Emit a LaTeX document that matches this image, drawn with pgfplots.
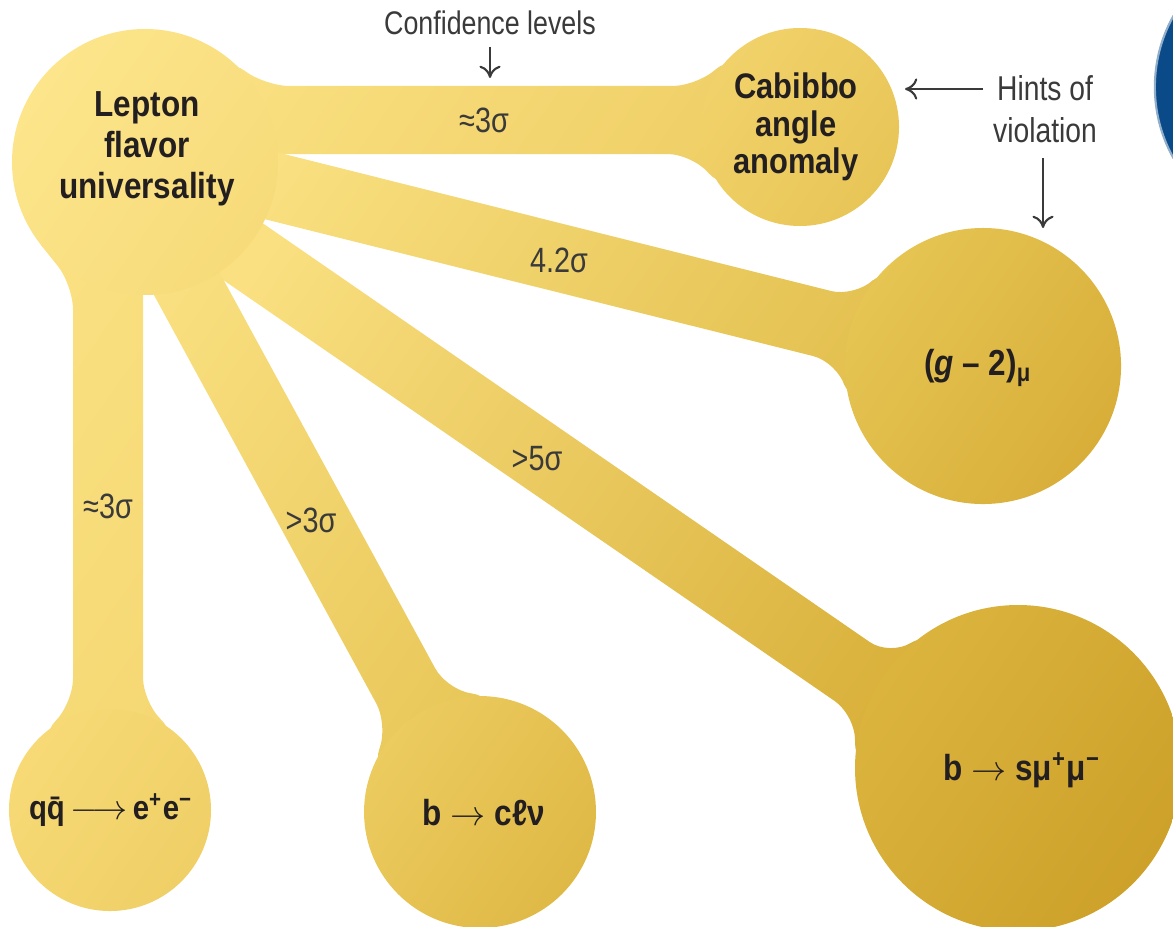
\documentclass[border=0pt]{standalone}
\usepackage{pgfplots}
\pgfplotsset{compat=1.18}
\usepackage{fontspec}
\usetikzlibrary{arrows.meta}
\setmainfont{Liberation Sans}
\newfontfamily\lbl{Liberation Sans}[FakeStretch=0.87]
\newfontfamily\cond{Liberation Sans}[FakeStretch=0.82]

\definecolor{ink}{HTML}{231F20}
\definecolor{note}{HTML}{3A3A3A}
\definecolor{navy}{HTML}{0B4A89}
% circle colours (light end, dark end)
\definecolor{lfuA}{HTML}{FCE58B}\definecolor{lfuB}{HTML}{F7DB7A}
\definecolor{cabA}{HTML}{F1D26A}\definecolor{cabB}{HTML}{E8C557}
\definecolor{gmA}{HTML}{E6C553}\definecolor{gmB}{HTML}{D8AE39}
\definecolor{bsA}{HTML}{DBB43E}\definecolor{bsB}{HTML}{CDA12A}
\definecolor{bcA}{HTML}{ECCB5F}\definecolor{bcB}{HTML}{DFB946}
\definecolor{qqA}{HTML}{F7DA76}\definecolor{qqB}{HTML}{EFCF66}
% branch colours: start at the hub, end matched to the node it joins
\definecolor{brA}{HTML}{FAE081}
\definecolor{brH}{HTML}{EFCF66}
\definecolor{brG}{HTML}{E3C04F}
\definecolor{brF}{HTML}{D9B13B}
\definecolor{brT}{HTML}{E9C85A}
\definecolor{brV}{HTML}{F5D873}

\pgfdeclareplotmark{lfu}{\shade[draw=none,top color=lfuA,bottom color=lfuB,shading angle=55] (0,0) circle (\pgfplotmarksize);}
\pgfdeclareplotmark{cab}{\shade[draw=none,top color=cabA,bottom color=cabB,shading angle=55] (0,0) circle (\pgfplotmarksize);}
\pgfdeclareplotmark{gm}{\shade[draw=none,top color=gmA,bottom color=gmB,shading angle=55] (0,0) circle (\pgfplotmarksize);}
\pgfdeclareplotmark{bs}{\shade[draw=none,top color=bsA,bottom color=bsB,shading angle=55] (0,0) circle (\pgfplotmarksize);}
\pgfdeclareplotmark{bc}{\shade[draw=none,top color=bcA,bottom color=bcB,shading angle=55] (0,0) circle (\pgfplotmarksize);}
\pgfdeclareplotmark{qq}{\shade[draw=none,top color=qqA,bottom color=qqB,shading angle=55] (0,0) circle (\pgfplotmarksize);}

\begin{document}
\begin{tikzpicture}
\useasboundingbox (0,0) rectangle (11.73cm,9.26cm);
\begin{axis}[
  at={(0,0)},anchor=south west,
  scale only axis,width=11.73cm,height=9.26cm,
  xmin=0,xmax=1173,ymin=0,ymax=926,y dir=reverse,
  hide axis,clip=false,
  branch/.style={draw=none,rounded corners=7pt},
]
% branches (outline of each band, with the flares into the nodes)
\addplot[branch,top color=brA,bottom color=brH,shading angle=55] coordinates {(145,162)(225,56)(265,86)(697,86)(734,53)(800,127)(725,192)(692,154)(200,154)};
\addplot[branch,top color=brA,bottom color=brG,shading angle=55] coordinates {(145,162)(220,138)(855,297)(889,265)(983,366)(851,406)(837,362)(220,208)};
\addplot[branch,top color=brA,bottom color=brF,shading angle=55] coordinates {(145,162)(200,180)(890,656)(931,630)(1018,768)(855,768)(855,715)(200,264)};
\addplot[branch,top color=brA,bottom color=brT,shading angle=55] coordinates {(145,162)(180,200)(447,690)(497,697)(480,812)(371,772)(388,725)(124,240)};
\addplot[branch,top color=brA,bottom color=brV,shading angle=55] coordinates {(143,200)(143,702)(179,737)(110,810)(38,739)(73,703)(73,285)(41,245)};
% nodes
\addplot[only marks,mark=lfu,mark size=37.84pt] coordinates {(145,162)};
\addplot[only marks,mark=cab,mark size=28.17pt] coordinates {(800,127)};
\addplot[only marks,mark=gm,mark size=39.27pt] coordinates {(983,366)};
\addplot[only marks,mark=bs,mark size=46.38pt] coordinates {(1018,768)};
\addplot[only marks,mark=bc,mark size=33.0pt] coordinates {(480,812)};
\addplot[only marks,mark=qq,mark size=28.74pt] coordinates {(110,810)};
\addplot[only marks,mark=*,mark size=41.3pt,mark options={fill=navy,draw=navy!45,line width=0.6pt}] coordinates {(1300,87)};
\end{axis}

% text and pointers, in the same pixel frame as the axis
\begin{scope}[yshift=9.26cm,x=0.1mm,y=-0.1mm]
\begin{scope}[every node/.style={text=ink,font=\lbl\bfseries\fontsize{10.3pt}{11.7pt}\selectfont,align=center,inner sep=0pt}]
\node at (147,149) {Lepton\\flavor\\universality};
\node[font=\lbl\bfseries\fontsize{10.1pt}{10.6pt}\selectfont] at (796,127) {Cabibbo\\angle\\anomaly};
\node at (978,368) {(\textit{g} – 2)\textsubscript{μ}};
\node at (1022,770) {b $\rightarrow$ sμ\textsuperscript{+}μ\textsuperscript{−}};
\node at (484,813) {b $\rightarrow$ cℓν};
\node[font=\lbl\bfseries\fontsize{9.6pt}{11pt}\selectfont] at (111,810) {q\=q\,$\longrightarrow$\,e\textsuperscript{+}e\textsuperscript{−}};
\end{scope}
\begin{scope}[every node/.style={text=note,font=\cond\fontsize{10pt}{12pt}\selectfont,align=center,inner sep=0pt}]
\node at (484,120) {≈3σ};
\node at (559,260) {4.2σ};
\node at (537,459) {>5σ};
\node at (311,520) {>3σ};
\node at (108,506) {≈3σ};
\node[anchor=base,font=\cond\fontsize{9.3pt}{11pt}\selectfont] at (490,35) {Confidence levels};
\node[font=\cond\fontsize{9.8pt}{12pt}\selectfont] at (1045,109) {Hints of\\violation};
\end{scope}
\begin{scope}[note,line width=0.6pt,-{To[length=3.5pt,width=6pt]}]
\draw (490,47) -- (490,78);
\draw (983,89) -- (905,89);
\draw (1043,158) -- (1043,228);
\end{scope}
\end{scope}
\end{tikzpicture}
\end{document}
